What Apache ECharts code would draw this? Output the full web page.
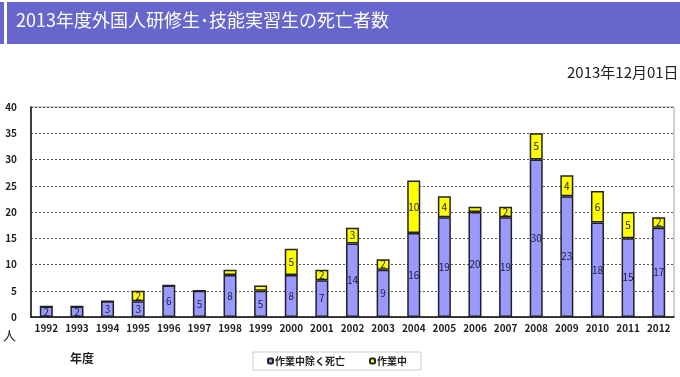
<!DOCTYPE html>
<html>
<head>
<meta charset="utf-8">
<script src="https://cdn.jsdelivr.net/npm/echarts@6/dist/echarts.min.js"></script>
<style>
  html, body { margin: 0; padding: 0; background: #fff; }
  #chart { width: 680px; height: 377px; }
</style>
</head>
<body>
<div id="chart"></div>
<script>
// fiscal years
const years = ['1992', '1993', '1994', '1995', '1996', '1997', '1998', '1999', '2000', '2001',
  '2002', '2003', '2004', '2005', '2006', '2007', '2008', '2009', '2010', '2011', '2012'];
// deaths excluding on-the-job
const offWork = [2, 2, 3, 3, 6, 5, 8, 5, 8, 7, 14, 9, 16, 19, 20, 19, 30, 23, 18, 15, 17];
// deaths on the job
const atWork = [0, 0, 0, 2, 0, 0, 1, 1, 5, 2, 3, 2, 10, 4, 1, 2, 5, 4, 6, 5, 2];
const yTicks = [0, 5, 10, 15, 20, 25, 30, 35, 40];

const FONT = '"Noto Sans CJK JP", sans-serif';
const chart = echarts.init(document.getElementById('chart'));

const segLabel = {
  show: true,
  position: 'inside',
  color: '#1a1a40',
  fontSize: 10,
  fontFamily: FONT,
  formatter: p => (p.value >= 2 ? p.value : '')
};

chart.setOption({
  animation: false,
  textStyle: { fontFamily: FONT },
  graphic: [
    { type: 'rect', shape: { x: 0, y: 2, width: 4, height: 42 }, style: { fill: '#6666cc' } },
    { type: 'rect', shape: { x: 7, y: 2, width: 673, height: 42 }, style: { fill: '#6666cc' } },
    {
      type: 'text', left: 16, top: 11,
      style: { text: '2013年度外国人研修生･技能実習生の死亡者数', fill: '#fff', fontSize: 18, fontFamily: FONT }
    },
    {
      type: 'text', left: 567, top: 65,
      style: { text: '2013年12月01日', fill: '#222', fontSize: 15, fontFamily: FONT }
    },
    {
      type: 'text', left: 3, top: 329,
      style: { text: '人', fill: '#222', fontSize: 13, fontFamily: FONT }
    },
    {
      type: 'text', left: 70, top: 352,
      style: { text: '年度', fill: '#222', fontSize: 12, fontWeight: 'bold', fontFamily: FONT }
    }
  ],
  legend: {
    left: 253, top: 352,
    itemWidth: 5, itemHeight: 5,
    itemGap: 24,
    padding: [4, 14, 4, 14],
    borderColor: '#cccccc', borderWidth: 1,
    textStyle: { fontSize: 10, fontWeight: 'bold', color: '#222', fontFamily: FONT, padding: [0, 0, 0, -3] },
    data: ['作業中除く死亡', '作業中']
  },
  grid: {
    left: 31, right: 6, top: 107, bottom: 60,
    show: true, borderColor: '#a0a0a0', borderWidth: 1
  },
  xAxis: {
    type: 'category',
    data: years,
    axisLine: { lineStyle: { color: '#111', width: 1.5 } },
    axisTick: { inside: true, length: 3, lineStyle: { color: '#111' } },
    axisLabel: { interval: 0, color: '#222', fontSize: 10, fontWeight: 'bold', margin: 6 }
  },
  yAxis: {
    type: 'value',
    min: yTicks[0], max: yTicks[yTicks.length - 1], interval: 5,
    axisLine: { show: true, lineStyle: { color: '#111', width: 1.5 } },
    axisTick: { show: false },
    axisLabel: { color: '#222', fontSize: 10, fontWeight: 'bold', margin: 14 },
    splitLine: { lineStyle: { color: '#555', type: [2, 2], width: 1 } }
  },
  series: [
    {
      name: '作業中除く死亡', type: 'bar', stack: 'total',
      data: offWork, barWidth: 13,
      itemStyle: { color: '#9999ff', borderColor: '#222', borderWidth: 1.5 },
      label: segLabel
    },
    {
      name: '作業中', type: 'bar', stack: 'total',
      data: atWork, barWidth: 13,
      itemStyle: { color: '#ffff00', borderColor: '#222', borderWidth: 1.5 },
      label: segLabel
    }
  ]
});
</script>
</body>
</html>
